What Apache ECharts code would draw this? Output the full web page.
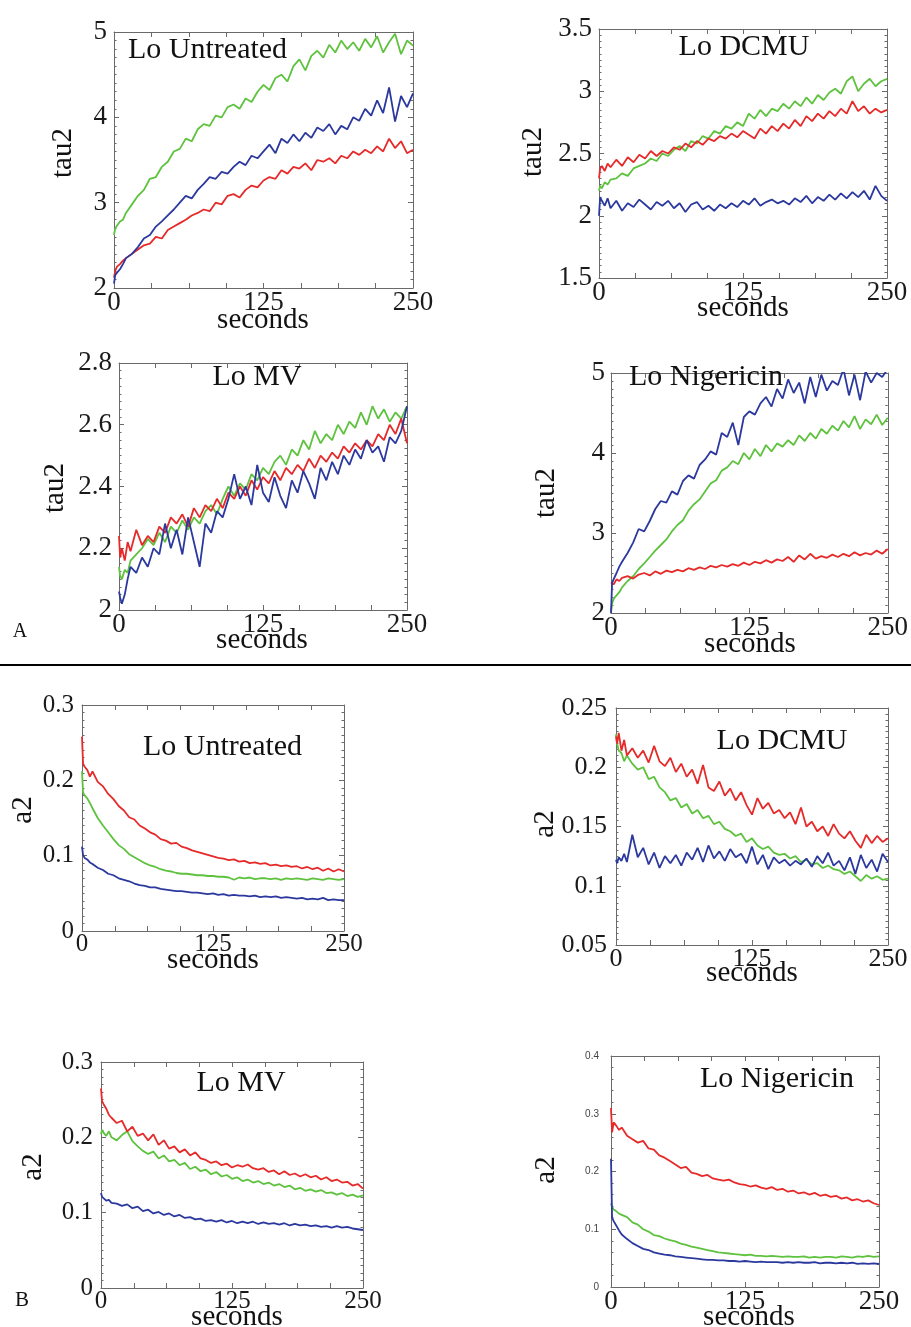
<!DOCTYPE html>
<html><head><meta charset="utf-8">
<script src="https://cdn.jsdelivr.net/npm/echarts@6/dist/echarts.min.js"></script>
<style>html,body{margin:0;padding:0;background:#fff}#c{width:911px;height:1327px}</style>
</head><body><div id="c"></div>
<script>
// sampling times (seconds)
const seconds = [0,1,2.5,5,7.5,10,
15,20,25,30,35,40,45,50,
55,60,65,70,75,80,85,90,95,100,
105,110,115,120,125,130,135,140,145,150,
155,160,165,170,175,180,185,190,195,200,
205,210,215,220,225,230,235,240,245,250];
const xTickLabels = [0,125,250];

// ---- A: tau2 ----
const untreatedTau2Green = [2.62,2.70,2.72,2.78,2.80,2.88,
2.98,3.08,3.15,3.28,3.30,3.42,3.48,3.60,
3.63,3.75,3.72,3.86,3.92,3.90,4.02,4.00,4.12,4.15,
4.10,4.22,4.18,4.30,4.38,4.32,4.46,4.50,4.42,4.60,
4.68,4.55,4.72,4.78,4.70,4.85,4.76,4.90,4.80,4.88,
4.78,4.92,4.82,4.95,4.76,4.88,4.98,4.74,4.90,4.84];
const untreatedTau2Red = [2.12,2.20,2.25,2.28,2.32,2.35,
2.40,2.45,2.50,2.52,2.60,2.58,2.68,2.72,
2.76,2.80,2.85,2.88,2.92,2.90,3.00,2.98,3.08,3.10,
3.06,3.15,3.20,3.18,3.26,3.30,3.28,3.38,3.34,3.42,
3.40,3.46,3.38,3.50,3.48,3.52,3.46,3.55,3.52,3.60,
3.56,3.62,3.58,3.66,3.60,3.75,3.64,3.72,3.58,3.62];
const untreatedTau2Blue = [2.05,2.15,2.18,2.22,2.28,2.35,
2.40,2.48,2.58,2.62,2.72,2.78,2.85,2.92,
3.00,3.08,3.05,3.15,3.22,3.30,3.28,3.36,3.34,3.42,
3.48,3.44,3.55,3.52,3.60,3.68,3.58,3.75,3.70,3.80,
3.72,3.82,3.76,3.88,3.84,3.92,3.80,3.90,3.86,4.00,
3.96,4.10,4.02,4.20,4.05,4.35,3.95,4.25,4.12,4.28];

const dcmuTau2Green = [2.20,2.24,2.22,2.27,2.25,2.29,
2.30,2.34,2.32,2.38,2.40,2.42,2.46,2.44,
2.50,2.48,2.53,2.56,2.52,2.60,2.58,2.64,2.62,2.68,
2.66,2.72,2.70,2.75,2.72,2.82,2.78,2.85,2.80,2.86,
2.84,2.90,2.86,2.92,2.88,2.95,2.90,2.97,2.93,2.99,
3.02,2.98,3.08,3.12,3.00,3.06,3.10,3.04,3.08,3.10];
const dcmuTau2Red = [2.30,2.38,2.40,2.36,2.42,2.39,
2.45,2.40,2.47,2.43,2.49,2.46,2.52,2.48,
2.52,2.50,2.55,2.53,2.58,2.55,2.60,2.57,2.62,2.60,
2.64,2.62,2.66,2.63,2.68,2.65,2.62,2.70,2.66,2.72,
2.68,2.74,2.70,2.77,2.72,2.80,2.76,2.82,2.78,2.84,
2.80,2.86,2.82,2.92,2.84,2.88,2.82,2.86,2.83,2.85];
const dcmuTau2Blue = [2.00,2.15,2.12,2.08,2.14,2.06,
2.12,2.04,2.10,2.07,2.13,2.09,2.05,2.11,
2.08,2.12,2.06,2.10,2.03,2.09,2.11,2.05,2.08,2.04,
2.09,2.06,2.10,2.07,2.12,2.09,2.14,2.08,2.11,2.13,
2.10,2.12,2.09,2.14,2.11,2.16,2.10,2.15,2.12,2.17,
2.13,2.18,2.14,2.19,2.15,2.20,2.13,2.24,2.16,2.12];

const mvTau2Green = [2.14,2.11,2.10,2.13,2.12,2.16,
2.18,2.20,2.23,2.21,2.25,2.22,2.27,2.25,
2.29,2.26,2.30,2.28,2.32,2.34,2.31,2.36,2.40,2.37,
2.41,2.39,2.44,2.42,2.46,2.44,2.48,2.50,2.47,2.52,
2.50,2.55,2.52,2.58,2.54,2.57,2.55,2.60,2.57,2.61,
2.59,2.64,2.60,2.66,2.62,2.65,2.61,2.64,2.62,2.66];
const mvTau2Red = [2.24,2.17,2.20,2.16,2.22,2.19,
2.26,2.21,2.24,2.22,2.27,2.25,2.30,2.28,
2.31,2.27,2.33,2.30,2.34,2.32,2.36,2.33,2.38,2.36,
2.40,2.37,2.42,2.39,2.43,2.41,2.45,2.42,2.46,2.44,
2.47,2.45,2.49,2.46,2.50,2.48,2.51,2.49,2.53,2.51,
2.54,2.52,2.55,2.53,2.57,2.55,2.60,2.57,2.62,2.54];
const mvTau2Blue = [2.06,2.04,2.02,2.05,2.10,2.14,
2.12,2.17,2.14,2.20,2.18,2.28,2.20,2.26,
2.18,2.30,2.22,2.14,2.28,2.25,2.32,2.30,2.36,2.44,
2.36,2.40,2.34,2.47,2.38,2.35,2.43,2.37,2.33,2.42,
2.38,2.45,2.41,2.36,2.46,2.42,2.48,2.44,2.50,2.47,
2.52,2.49,2.55,2.51,2.53,2.48,2.56,2.54,2.58,2.66];

const nigTau2Green = [2.00,2.12,2.18,2.22,2.26,2.32,
2.40,2.46,2.55,2.62,2.70,2.78,2.85,2.92,
3.02,3.10,3.16,3.28,3.36,3.42,3.52,3.62,3.66,3.78,
3.82,3.90,3.86,4.00,3.92,4.05,3.96,4.10,4.02,4.12,
4.08,4.16,4.10,4.22,4.15,4.25,4.18,4.30,4.24,4.34,
4.28,4.40,4.32,4.46,4.30,4.42,4.36,4.48,4.35,4.44];
const nigTau2Red = [2.38,2.40,2.36,2.42,2.40,2.44,
2.46,2.43,2.48,2.50,2.47,2.52,2.49,2.53,
2.51,2.54,2.52,2.56,2.54,2.57,2.55,2.59,2.57,2.60,
2.58,2.61,2.59,2.63,2.60,2.64,2.62,2.66,2.63,2.67,
2.65,2.70,2.64,2.72,2.67,2.74,2.68,2.71,2.69,2.73,
2.70,2.74,2.71,2.76,2.72,2.75,2.73,2.78,2.74,2.80];
const nigTau2Blue = [2.00,2.38,2.40,2.50,2.58,2.64,
2.75,2.88,3.05,3.02,3.15,3.30,3.40,3.38,
3.52,3.48,3.65,3.72,3.68,3.85,3.92,4.02,3.98,4.25,
4.20,4.38,4.10,4.45,4.52,4.48,4.62,4.70,4.58,4.80,
4.68,4.92,4.75,4.88,4.62,4.95,4.70,4.98,4.78,4.90,
4.85,5.05,4.72,4.98,4.66,5.02,4.88,5.00,4.95,5.05];

// ---- B: a2 ----
const untreatedA2Red = [0.258,0.222,0.218,0.214,0.205,0.212,
0.198,0.192,0.182,0.175,0.166,0.160,0.151,0.148,
0.140,0.136,0.131,0.128,0.122,0.120,0.116,0.117,0.112,0.110,
0.107,0.105,0.103,0.101,0.099,0.097,0.096,0.094,0.095,0.092,
0.093,0.090,0.091,0.089,0.090,0.087,0.088,0.086,0.087,0.085,
0.086,0.083,0.085,0.082,0.084,0.080,0.083,0.079,0.082,0.079];
const untreatedA2Green = [0.212,0.184,0.180,0.176,0.170,0.163,
0.150,0.140,0.131,0.122,0.114,0.109,0.102,0.098,
0.094,0.090,0.087,0.085,0.082,0.080,0.079,0.077,0.076,0.076,
0.075,0.074,0.074,0.073,0.073,0.072,0.072,0.071,0.068,0.071,
0.070,0.071,0.069,0.070,0.070,0.069,0.070,0.068,0.070,0.069,
0.070,0.069,0.068,0.070,0.069,0.068,0.070,0.069,0.068,0.069];
const untreatedA2Blue = [0.112,0.101,0.097,0.095,0.091,0.089,
0.084,0.081,0.076,0.074,0.070,0.068,0.066,0.063,
0.061,0.060,0.058,0.058,0.056,0.055,0.054,0.053,0.053,0.052,
0.051,0.051,0.050,0.049,0.050,0.048,0.049,0.047,0.048,0.047,
0.047,0.046,0.047,0.045,0.046,0.045,0.046,0.044,0.045,0.044,
0.043,0.044,0.042,0.043,0.042,0.044,0.041,0.042,0.041,0.041];

const dcmuA2Red = [0.226,0.220,0.229,0.214,0.223,0.210,
0.216,0.208,0.214,0.204,0.218,0.205,0.201,0.208,
0.196,0.203,0.192,0.198,0.186,0.202,0.183,0.180,0.188,0.176,
0.182,0.172,0.179,0.168,0.160,0.174,0.165,0.170,0.161,0.164,
0.157,0.162,0.152,0.166,0.150,0.154,0.146,0.150,0.142,0.152,
0.144,0.140,0.146,0.138,0.132,0.143,0.136,0.142,0.137,0.140];
const dcmuA2Green = [0.228,0.220,0.214,0.212,0.205,0.210,
0.203,0.198,0.200,0.190,0.192,0.183,0.179,0.172,
0.174,0.166,0.169,0.161,0.164,0.157,0.159,0.152,0.154,0.148,
0.146,0.142,0.144,0.137,0.140,0.134,0.131,0.133,0.128,0.126,
0.127,0.123,0.125,0.120,0.122,0.118,0.119,0.115,0.117,0.114,
0.113,0.110,0.112,0.108,0.104,0.109,0.106,0.108,0.105,0.106];
const dcmuA2Blue = [0.122,0.119,0.124,0.121,0.127,0.120,
0.143,0.124,0.132,0.118,0.128,0.115,0.125,0.119,
0.126,0.117,0.128,0.122,0.132,0.120,0.134,0.123,0.129,0.121,
0.131,0.124,0.127,0.119,0.133,0.118,0.126,0.114,0.124,0.119,
0.122,0.117,0.121,0.118,0.123,0.116,0.125,0.119,0.128,0.117,
0.121,0.113,0.124,0.110,0.126,0.115,0.122,0.112,0.127,0.120];

const mvA2Red = [0.265,0.248,0.244,0.238,0.230,0.226,
0.219,0.222,0.208,0.214,0.202,0.205,0.196,0.204,
0.190,0.196,0.185,0.188,0.180,0.184,0.176,0.180,0.172,0.170,
0.166,0.168,0.163,0.165,0.160,0.163,0.161,0.164,0.159,0.157,
0.159,0.154,0.156,0.151,0.155,0.150,0.152,0.148,0.151,0.147,
0.149,0.144,0.147,0.142,0.144,0.140,0.141,0.136,0.138,0.132];
const mvA2Green = [0.204,0.210,0.206,0.202,0.208,0.200,
0.196,0.203,0.208,0.195,0.188,0.182,0.178,0.181,
0.172,0.176,0.168,0.170,0.163,0.166,0.158,0.161,0.155,0.157,
0.151,0.154,0.148,0.150,0.145,0.147,0.142,0.144,0.140,0.142,
0.138,0.140,0.136,0.138,0.134,0.136,0.131,0.133,0.129,0.131,
0.128,0.130,0.126,0.127,0.124,0.126,0.122,0.124,0.121,0.123];
const mvA2Blue = [0.126,0.121,0.119,0.116,0.117,0.113,
0.112,0.109,0.111,0.106,0.108,0.102,0.104,0.099,
0.101,0.097,0.099,0.095,0.097,0.093,0.094,0.091,0.092,0.089,
0.090,0.088,0.090,0.087,0.089,0.086,0.088,0.086,0.088,0.085,
0.087,0.085,0.086,0.084,0.086,0.083,0.085,0.083,0.084,0.082,
0.083,0.081,0.082,0.080,0.082,0.080,0.081,0.079,0.078,0.077];

const nigA2Red = [0.310,0.268,0.285,0.279,0.272,0.276,
0.262,0.256,0.250,0.253,0.240,0.238,0.228,0.224,
0.218,0.212,0.206,0.208,0.198,0.196,0.192,0.194,0.188,0.186,
0.184,0.186,0.181,0.178,0.177,0.174,0.176,0.172,0.170,0.173,
0.168,0.170,0.165,0.167,0.162,0.164,0.160,0.163,0.158,0.160,
0.156,0.158,0.153,0.155,0.150,0.152,0.148,0.150,0.145,0.142];
const nigA2Green = [0.145,0.139,0.134,0.131,0.127,0.125,
0.121,0.112,0.108,0.100,0.096,0.090,0.088,0.084,
0.081,0.079,0.075,0.073,0.070,0.068,0.066,0.064,0.062,0.060,
0.059,0.058,0.057,0.056,0.055,0.056,0.054,0.054,0.053,0.054,
0.053,0.052,0.053,0.052,0.052,0.053,0.051,0.052,0.051,0.052,
0.052,0.051,0.053,0.052,0.051,0.053,0.052,0.054,0.052,0.053];
const nigA2Blue = [0.222,0.120,0.114,0.106,0.098,0.091,
0.083,0.076,0.071,0.066,0.064,0.060,0.058,0.056,
0.055,0.053,0.052,0.051,0.050,0.049,0.048,0.047,0.047,0.046,
0.046,0.045,0.045,0.044,0.045,0.044,0.043,0.044,0.043,0.043,
0.043,0.042,0.043,0.042,0.043,0.042,0.042,0.043,0.041,0.042,
0.042,0.041,0.042,0.041,0.042,0.040,0.041,0.040,0.041,0.040];

// ---------- layout ----------
const SERIF = "'Liberation Serif','DejaVu Serif',serif";
const SANS = "'Liberation Sans','DejaVu Sans',sans-serif";
const COLORS = {green:'#5ec23f', red:'#e62a2a', blue:'#2b389e'};
const AXIS = '#6a6a6a';

const panels = [
 {rect:[114,32,299,256], y:[2,5,1,10], font:27, m:7, title:'Lo Untreated', tx:128, ty:50, ta:'left', yname:'tau2', nx:63, ny:153, sx:263, sy:320,
  series:{green:untreatedTau2Green, red:untreatedTau2Red, blue:untreatedTau2Blue}},
 {rect:[599,29,288,249], y:[1.5,3.5,0.5,10], font:27, m:7, title:'Lo DCMU', tx:744, ty:47, ta:'center', yname:'tau2', nx:533, ny:152, sx:743, sy:308,
  series:{green:dcmuTau2Green, red:dcmuTau2Red, blue:dcmuTau2Blue}},
 {rect:[119,363,288,247], y:[2,2.8,0.2,8], font:27, m:7, title:'Lo MV', tx:257, ty:377, ta:'center', yname:'tau2', nx:55, ny:488, sx:262, sy:640,
  series:{green:mvTau2Green, red:mvTau2Red, blue:mvTau2Blue}},
 {rect:[611,373,277,240], y:[2,5,1,10], font:27, m:6, title:'Lo Nigericin', tx:629, ty:377, ta:'left', yname:'tau2', nx:546, ny:493, sx:750, sy:644,
  series:{green:nigTau2Green, red:nigTau2Red, blue:nigTau2Blue}},
 {rect:[82,705,262,226], y:[0,0.3,0.1,10], font:25, m:8, title:'Lo Untreated', tx:143, ty:747, ta:'left', yname:'a2', nx:23, ny:810, sx:213, sy:960,
  series:{green:untreatedA2Green, red:untreatedA2Red, blue:untreatedA2Blue}},
 {rect:[616,708,272,237], y:[0.05,0.25,0.05,10], font:26, m:9, title:'Lo DCMU', tx:782, ty:741, ta:'center', yname:'a2', nx:545, ny:824, sx:752, sy:973,
  series:{green:dcmuA2Green, red:dcmuA2Red, blue:dcmuA2Blue}},
 {rect:[101,1062,262,226], y:[0,0.3,0.1,10], font:25, m:8, title:'Lo MV', tx:241, ty:1083, ta:'center', yname:'a2', nx:33, ny:1167, sx:237, sy:1317,
  series:{green:mvA2Green, red:mvA2Red, blue:mvA2Blue}},
 {rect:[611,1056,268,231], y:[0,0.4,0.1,5], font:10, yfamily:SANS, ycolor:'#444', m:12, xfont:27, title:'Lo Nigericin', tx:700, ty:1079, ta:'left', yname:'a2', nx:546, ny:1170, sx:749, sy:1317,
  series:{green:nigA2Green, red:nigA2Red, blue:nigA2Blue}}
];

const grid=[], xAxis=[], yAxis=[], series=[], graphic=[];
const tickCommon = {show:true, inside:true, length:5, lineStyle:{color:AXIS,width:1}};
const minorCommon = (n)=>({show:true, splitNumber:n, length:2.5, lineStyle:{color:AXIS,width:1}});
panels.forEach((p,i)=>{
  const [l,t,w,h]=p.rect;
  grid.push({left:l, top:t, width:w, height:h, show:false, containLabel:false});
  const xf = p.xfont || p.font;
  const xbase = {type:'value', gridIndex:i, min:0, max:250, interval:31.25,
    axisLine:{show:true, onZero:false, lineStyle:{color:AXIS,width:1}}, axisTick:tickCommon, splitLine:{show:false}};
  xAxis.push(Object.assign({}, xbase, {position:'bottom',
    axisLabel:{show:true, margin:1, color:'#1a1a1a', fontFamily:SERIF, fontSize:xf, showMinLabel:true, showMaxLabel:true,
      formatter:(v)=> xTickLabels.indexOf(v)>=0 ? String(v) : ''}}));
  xAxis.push(Object.assign({}, xbase, {position:'top', axisLabel:{show:false}}));
  const [ymin,ymax,yint,ms]=p.y;
  const ybase = {type:'value', gridIndex:i, min:ymin, max:ymax, interval:yint,
    axisLine:{show:true, onZero:false, lineStyle:{color:AXIS,width:1}}, axisTick:tickCommon, minorTick:minorCommon(ms), splitLine:{show:false}, minorSplitLine:{show:false}};
  yAxis.push(Object.assign({}, ybase, {position:'left',
    axisLabel:{show:true, margin:p.m, color:p.ycolor||'#1a1a1a', fontFamily:p.yfamily||SERIF, fontSize:p.font, showMinLabel:true, showMaxLabel:true}}));
  yAxis.push(Object.assign({}, ybase, {position:'right', axisLabel:{show:false}}));
  ['green','red','blue'].forEach(c=>{
    series.push({type:'line', xAxisIndex:2*i, yAxisIndex:2*i, showSymbol:false, symbol:'none', clip:true, animation:false,
      lineStyle:{color:COLORS[c], width:1.8}, itemStyle:{color:COLORS[c]},
      data: seconds.map((s,k)=>[s, p.series[c][k]])});
  });
  graphic.push({type:'text', x:p.tx, y:p.ty, style:{text:p.title, font:'30px '+SERIF, fill:'#111', textAlign:p.ta, textVerticalAlign:'middle'}, z:10});
  graphic.push({type:'text', x:p.nx, y:p.ny, rotation:Math.PI/2, style:{text:p.yname, font:'29px '+SERIF, fill:'#111', textAlign:'center', textVerticalAlign:'middle'}, z:10});
  graphic.push({type:'text', x:p.sx, y:p.sy, style:{text:'seconds', font:'29px '+SERIF, fill:'#111', textAlign:'center', textVerticalAlign:'middle'}, z:10});
});
graphic.push({type:'text', x:20, y:632, style:{text:'A', font:'20px '+SERIF, fill:'#111', textAlign:'center', textVerticalAlign:'middle'}});
graphic.push({type:'text', x:22, y:1300, style:{text:'B', font:'21px '+SERIF, fill:'#111', textAlign:'center', textVerticalAlign:'middle'}});
graphic.push({type:'line', shape:{x1:0,y1:665,x2:911,y2:665}, style:{stroke:'#000', lineWidth:2}});

const chart = echarts.init(document.getElementById('c'), null, {renderer:'canvas'});
chart.setOption({animation:false, backgroundColor:'#fff', grid, xAxis, yAxis, series, graphic});
</script></body></html>
